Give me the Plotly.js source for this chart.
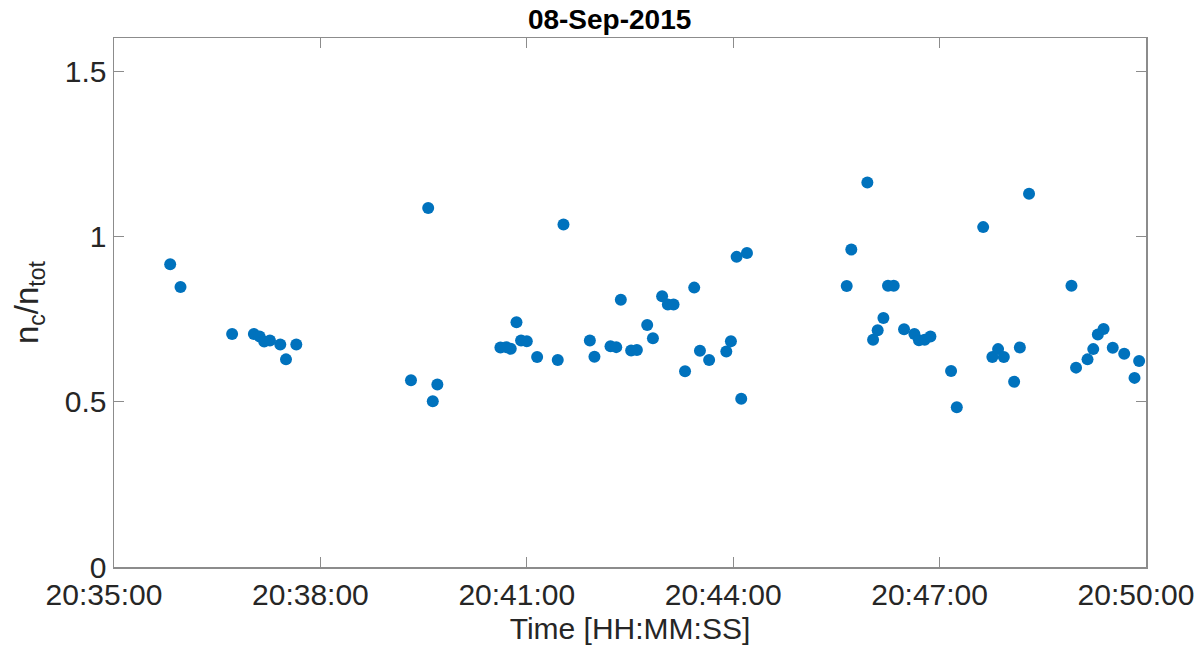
<!DOCTYPE html>
<html>
<head>
<meta charset="utf-8">
<script src="https://cdn.plot.ly/plotly-3.0.1.min.js"></script>
<style>
  body { margin: 0; background: #fff; }
  #chart { width: 1200px; height: 659px; }
</style>
</head>
<body>
<div id="chart"></div>
<script>
// one day, times, ratio
let day = "2015-09-08";

let times = [
  "20:35:49", "20:35:58", "20:36:43", "20:37:02", "20:37:07", "20:37:11",
  "20:37:16", "20:37:25", "20:37:30", "20:37:39", "20:39:19", "20:39:34",
  "20:39:38", "20:39:42", "20:40:37", "20:40:42", "20:40:46", "20:40:51",
  "20:40:55", "20:41:00", "20:41:09", "20:41:27", "20:41:32", "20:41:55",
  "20:41:59", "20:42:13", "20:42:18", "20:42:22", "20:42:31", "20:42:36",
  "20:42:45", "20:42:50", "20:42:58", "20:43:03", "20:43:08", "20:43:18",
  "20:43:26", "20:43:31", "20:43:39", "20:43:54", "20:43:58", "20:44:03",
  "20:44:07", "20:44:12", "20:45:39", "20:45:43", "20:45:57", "20:46:02",
  "20:46:06", "20:46:11", "20:46:15", "20:46:20", "20:46:29", "20:46:38",
  "20:46:42", "20:46:47", "20:46:52", "20:47:10", "20:47:15", "20:47:38",
  "20:47:46", "20:47:51", "20:47:56", "20:48:05", "20:48:10", "20:48:18",
  "20:48:55", "20:48:59", "20:49:09", "20:49:14", "20:49:18", "20:49:23",
  "20:49:31", "20:49:41", "20:49:50", "20:49:54"
];

let ratio = [
  0.916, 0.847, 0.705, 0.705, 0.697, 0.682,
  0.685, 0.673, 0.628, 0.673, 0.565, 1.086,
  0.501, 0.552, 0.664, 0.665, 0.660, 0.740,
  0.685, 0.683, 0.635, 0.626, 1.036, 0.685,
  0.636, 0.668, 0.665, 0.808, 0.655, 0.656,
  0.732, 0.692, 0.819, 0.794, 0.794, 0.592,
  0.845, 0.654, 0.626, 0.652, 0.683, 0.938,
  0.509, 0.950, 0.850, 0.960, 1.163, 0.687,
  0.716, 0.753, 0.851, 0.851, 0.719, 0.705,
  0.686, 0.687, 0.697, 0.593, 0.483, 1.028,
  0.635, 0.659, 0.635, 0.560, 0.664, 1.129,
  0.851, 0.603, 0.628, 0.659, 0.703, 0.720,
  0.663, 0.645, 0.572, 0.623
];

let yTicks = [0, 0.5, 1, 1.5];
let yTickText = ["0", "0.5", "1", "1.5"];

function makeChart() {
  let x = times.map(t => day + " " + t);

  let data = [{
    x: x,
    y: ratio,
    type: "scatter",
    mode: "markers",
    marker: {size: 12, color: "#0072BD"},
    hoverinfo: "x+y"
  }];

  let font = "Liberation Sans, Arial, Helvetica, sans-serif";
  let axisCol = "#8c8c8c";

  let layout = {
    width: 1200,
    height: 659,
    margin: {l: 114, r: 54, t: 38, b: 92},
    paper_bgcolor: "#ffffff",
    plot_bgcolor: "#ffffff",
    showlegend: false,
    font: {family: font, color: "#262626", size: 30},
    title: {
      text: "<b>08-Sep-2015</b>",
      font: {family: font, size: 28, color: "#000000"},
      xref: "container", x: 0.508,
      yref: "container", y: 0.971, yanchor: "middle"
    },
    xaxis: {
      type: "date",
      range: [day + " 20:35:00", day + " 20:50:00"],
      tick0: day + " 20:35:00",
      dtick: 180000,
      tickformat: "%H:%M:%S",
      ticks: "inside",
      ticklen: 10,
      tickcolor: axisCol,
      showline: true,
      linecolor: axisCol,
      linewidth: 1.5,
      mirror: "ticks",
      showgrid: false,
      zeroline: false,
      ticklabelshift: -10,
      tickfont: {size: 30, color: "#262626"},
      title: {text: "Time [HH:MM:SS]", font: {size: 30, color: "#262626"}, standoff: 8}
    },
    yaxis: {
      range: [0, 1.6],
      tickvals: yTicks,
      ticktext: yTickText,
      ticks: "inside",
      ticklen: 10,
      tickcolor: axisCol,
      showline: true,
      linecolor: axisCol,
      linewidth: 1.5,
      mirror: "ticks",
      showgrid: false,
      zeroline: false,
      tickfont: {size: 30, color: "#262626"},
      title: {text: "n<sub>c</sub>/n<sub>tot</sub>", font: {size: 33, color: "#262626"}, standoff: 16}
    }
  };

  Plotly.newPlot("chart", data, layout, {displayModeBar: false, staticPlot: true});
}

makeChart();
</script>
</body>
</html>
